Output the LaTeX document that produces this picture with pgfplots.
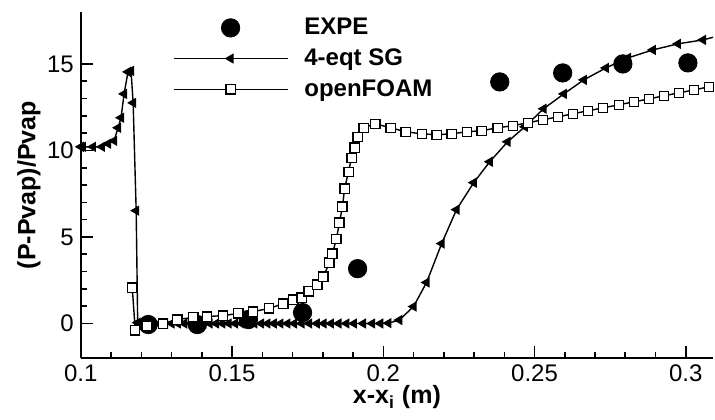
\documentclass[border=0pt]{standalone}
\usepackage{fontspec}
\setmainfont{Liberation Sans}
\usepackage{pgfplots}
\pgfplotsset{compat=1.18}
\begin{document}
\begin{tikzpicture}
\begin{axis}[
  scale only axis,
  width=316pt, height=173pt,
  xmin=0.1, xmax=0.309, ymin=-2, ymax=18,
  axis lines*=left,
  axis line style={line width=1pt},
  tick align=inside,
  major tick length=6pt, minor tick length=3pt,
  every tick/.style={black, line width=0.8pt},
  xtick={0.1,0.15,0.2,0.25,0.3},
  xticklabels={0.1,0.15,0.2,0.25,0.3},
  ytick={0,5,10,15},
  minor x tick num=4, minor y tick num=4,
  /pgf/number format/assume math mode=true,
  tick label style={font=\fontsize{12}{14}\selectfont},
  every axis x label/.style={at={(axis description cs:0.5,-0.113)}, anchor=center, font=\fontsize{12.5}{14}\selectfont\bfseries},
  every axis y label/.style={at={(axis description cs:-0.0823,0.5)}, rotate=90, anchor=center, font=\fontsize{12.5}{14}\selectfont\bfseries},
  xlabel={x-x\textsubscript{i} (m)},
  ylabel={(P-Pvap)/Pvap},
  legend cell align=left,
  legend style={at={(rel axis cs:0.145,0.995)}, anchor=north west, draw=none, fill=none,
    inner sep=0pt, font=\fontsize{12}{14}\selectfont\bfseries, row sep=1.5pt,
    /tikz/every odd column/.append style={column sep=6pt}},
  legend image code/.code={\draw[mark repeat=2,mark phase=2,#1] plot coordinates {(0pt,0pt) (28.5pt,0pt) (57pt,0pt)};},
]
\addplot[only marks, mark=*, mark size=4.6pt, black] coordinates {
(0.1223,-0.06) (0.1385,-0.06) (0.1554,0.23) (0.1733,0.63) (0.1915,3.17)
(0.2385,13.96) (0.2593,14.48) (0.2792,15.0) (0.3007,15.06)
};
\addlegendentry{EXPE}
\addplot[black, line width=0.7pt, mark=triangle*, mark size=2.3pt, mark options={rotate=90, solid, fill=black}] coordinates {
(0.1000,10.21) (0.1007,10.21) (0.104,10.21) (0.107,10.21) (0.109,10.39) (0.111,10.56) (0.1123,11.31)
(0.1133,11.89) (0.1143,13.27) (0.1156,14.54) (0.1166,14.6) (0.1173,12.75) (0.1183,6.52) (0.1188,0.05)
(0.1195,0) (0.1216,0) (0.1237,0) (0.1258,0) (0.1279,0) (0.1300,0) (0.1321,0) (0.1342,0) (0.1363,0)
(0.1384,0) (0.1405,0) (0.1426,0) (0.1447,0) (0.1468,0) (0.1489,0) (0.1510,0) (0.1531,0)
(0.1553,0) (0.1574,0) (0.1596,0) (0.1617,0) (0.1638,0) (0.1660,0) (0.1683,0) (0.1705,0) (0.1730,0)
(0.1755,0) (0.1780,0) (0.1803,0) (0.1827,0) (0.1852,0) (0.1878,0) (0.1903,0) (0.1933,0) (0.1963,0)
(0.1990,0) (0.2017,0.02)
(0.2053,0.2) (0.2100,0.98) (0.2143,2.37) (0.2193,4.62) (0.2242,6.58) (0.2299,8.14) (0.2352,9.35)
(0.2411,10.5) (0.2468,11.37) (0.2530,12.41) (0.2597,13.27) (0.2663,14.08) (0.2736,14.77)
(0.2809,15.35) (0.2891,15.81) (0.2974,16.16) (0.3057,16.39) (0.3095,16.56)
};
\addlegendentry{4-eqt SG}
\addplot[black, line width=0.7pt, mark=square*, mark size=2.3pt, mark options={solid, fill=white, draw=black, line width=0.6pt}] coordinates {
(0.117,2.08) (0.118,-0.40) (0.1219,-0.17) (0.1272,0.0) (0.1319,0.23) (0.1372,0.35) (0.1418,0.40)
(0.1471,0.46) (0.1521,0.58) (0.157,0.69) (0.1623,0.87) (0.167,1.15) (0.1703,1.38) (0.173,1.50)
(0.1753,1.85) (0.1782,2.25) (0.1802,2.71) (0.1822,3.52) (0.1832,4.04) (0.1845,4.90) (0.1855,5.83)
(0.1865,6.75) (0.1872,7.79) (0.1885,8.77) (0.1895,9.58) (0.1905,10.16) (0.1915,10.79) (0.1935,11.31)
(0.1974,11.54) (0.2024,11.31) (0.2074,11.08) (0.2127,10.96) (0.2176,10.91) (0.2226,10.96)
(0.2276,11.08) (0.2325,11.14) (0.2378,11.31) (0.2428,11.43) (0.2478,11.6) (0.2527,11.77)
(0.2577,11.94) (0.2627,12.12) (0.2677,12.29) (0.2726,12.46) (0.2779,12.64) (0.2829,12.81)
(0.2879,12.98) (0.2928,13.16) (0.2978,13.33) (0.3028,13.5) (0.3077,13.68)
};
\addlegendentry{openFOAM}
\end{axis}
\pgfresetboundingbox
\path (current axis.south west) ++(-40.4pt,-30.5pt) coordinate (bbA);
\path (current axis.north east) ++(1pt,6pt) coordinate (bbB);
\useasboundingbox (bbA) rectangle (bbB);
\end{tikzpicture}
\end{document}
